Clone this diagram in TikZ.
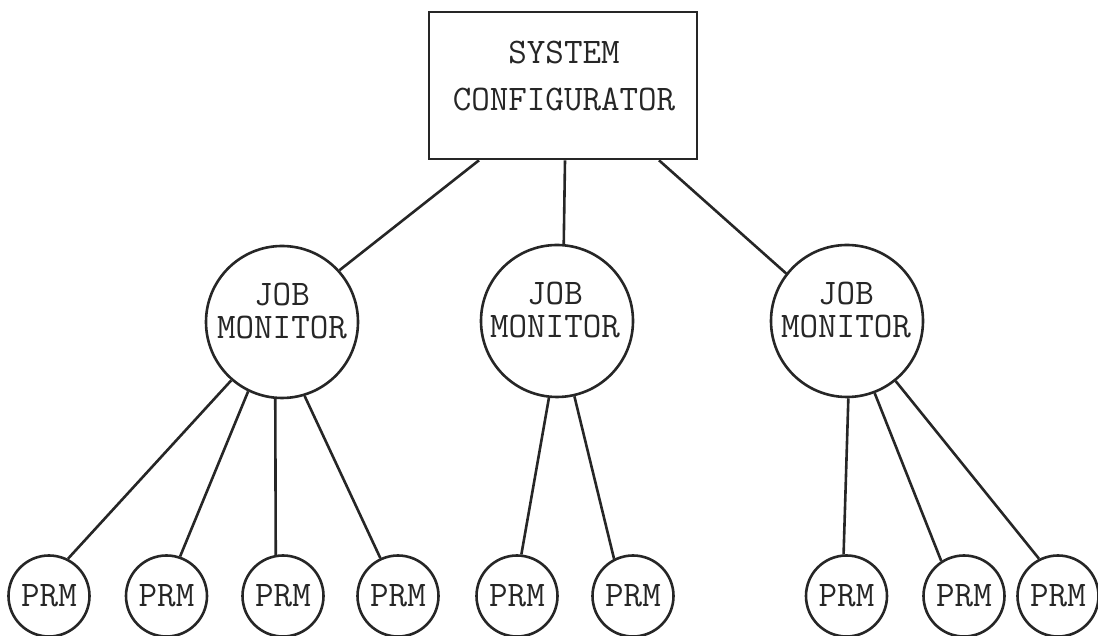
\documentclass[tikz,border=0pt]{standalone}
\usetikzlibrary{calc}
\begin{document}
\begin{tikzpicture}[x=1pt,y=1pt,
  ink/.style={line width=2.6pt, draw=black!85},
  cfgbox/.style={ink, rectangle, minimum width=268pt, minimum height=147pt, inner sep=0pt},
  cfgtext/.style={font=\ttfamily\fontsize{36}{47}\selectfont, align=center, inner sep=0pt, text=black!85},
  jm/.style={ink, circle, minimum size=152pt, inner sep=0pt},
  jmtext/.style={font=\ttfamily\fontsize{36}{33}\selectfont, align=center, inner sep=0pt, text=black!85},
  prm/.style={ink, circle, minimum size=81pt, inner sep=0pt, text=black!85, font=\ttfamily\fontsize{36}{40}\selectfont},
  link/.style={ink}]
\useasboundingbox (0,0) rectangle (1098,636);

% top box
\node[cfgbox] (sc) at (563,550.5) {};
\node[cfgtext] (sctxt) at (564,559.5) {SYSTEM\\CONFIGURATOR};

% job monitors
\node[jm] (jm1) at (282,314) {};
\node[jm] (jm2) at (557,315) {};
\node[jm] (jm3) at (847,315) {};
\node[jmtext] (jt1) at (282,324.5) {JOB\\MONITOR};
\node[jmtext] (jt2) at (555,325.5) {JOB\\MONITOR};
\node[jmtext] (jt3) at (846,325.5) {JOB\\MONITOR};

% PRMs
\node[prm] (p1) at (49,40) {PRM};
\node[prm] (p2) at (166.5,40) {PRM};
\node[prm] (p3) at (283,40) {PRM};
\node[prm] (p4) at (398,40) {PRM};
\node[prm] (p5) at (517,40) {PRM};
\node[prm] (p6) at (633,40) {PRM};
\node[prm] (p7) at (846.5,40) {PRM};
\node[prm] (p8) at (964,40) {PRM};
\node[prm] (p9) at (1058,40) {PRM};

% box to job monitors
\coordinate (s1) at ([xshift=-84pt]sc.south);
\coordinate (s2) at ([xshift=2pt]sc.south);
\coordinate (s3) at ([xshift=96pt]sc.south);
\draw[link] (s1) -- (jm1.42);
\draw[link] (s2) -- (jm2.85);
\draw[link] (s3) -- (jm3.142);

% job monitor 1 to PRMs
\draw[link] (jm1.229) -- (p1.63);
\draw[link] (jm1.244) -- (p2.71);
\draw[link] (jm1.265) -- (p3.100);
\draw[link] (jm1.287) -- (p4.115);

% job monitor 2 to PRMs
\draw[link] (jm2.264) -- (p5.84);
\draw[link] (jm2.283) -- (p6.117);

% job monitor 3 to PRMs
\draw[link] (jm3.271) -- (p7.94);
\draw[link] (jm3.291) -- (p8.123);
\draw[link] (jm3.309) -- (p9.117);
\end{tikzpicture}
\end{document}
